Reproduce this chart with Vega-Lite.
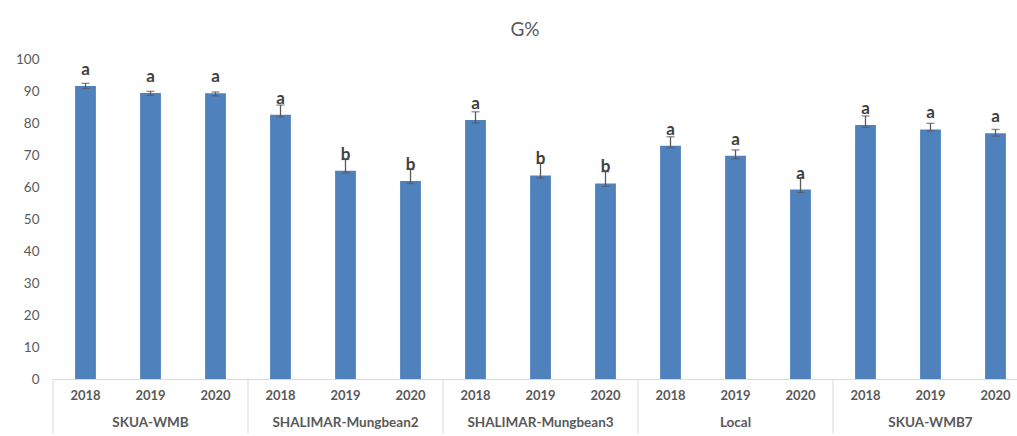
{
  "$schema": "https://vega.github.io/schema/vega-lite/v6.json",
  "autosize": {"type": "none"},
  "padding": {"left": 53, "top": 59, "right": 0, "bottom": 57},
  "width": 964,
  "height": 320,
  "background": "white",
  "title": {
    "text": "G%",
    "font": "Lato",
    "fontSize": 19,
    "fontWeight": "normal",
    "color": "#595959",
    "anchor": "middle",
    "dx": -10,
    "offset": 12
  },
  "config": {
    "view": {"stroke": null},
    "font": "Lato",
    "axisY": {
      "labelOverlap": false,
      "grid": false,
      "ticks": false,
      "domain": false,
      "labelFont": "Lato",
      "labelFontSize": 13.5,
      "labelColor": "#595959",
      "labelPadding": 14
    }
  },
  "data": {
    "values": [
      {"key": "SKUA-WMB|2018", "variety": "SKUA-WMB", "year": "2018", "g": 91.6, "lo": 90.8, "hi": 92.4, "letter": "a"},
      {"key": "SKUA-WMB|2019", "variety": "SKUA-WMB", "year": "2019", "g": 89.4, "lo": 88.6, "hi": 89.9, "letter": "a"},
      {"key": "SKUA-WMB|2020", "variety": "SKUA-WMB", "year": "2020", "g": 89.3, "lo": 88.5, "hi": 89.7, "letter": "a"},
      {"key": "SHALIMAR-Mungbean2|2018", "variety": "SHALIMAR-Mungbean2", "year": "2018", "g": 82.6, "lo": 81.9, "hi": 85.6, "letter": "a"},
      {"key": "SHALIMAR-Mungbean2|2019", "variety": "SHALIMAR-Mungbean2", "year": "2019", "g": 65.1, "lo": 64.4, "hi": 68.6, "letter": "b"},
      {"key": "SHALIMAR-Mungbean2|2020", "variety": "SHALIMAR-Mungbean2", "year": "2020", "g": 61.9, "lo": 61.1, "hi": 65.5, "letter": "b"},
      {"key": "SHALIMAR-Mungbean3|2018", "variety": "SHALIMAR-Mungbean3", "year": "2018", "g": 80.9, "lo": 80.0, "hi": 83.5, "letter": "a"},
      {"key": "SHALIMAR-Mungbean3|2019", "variety": "SHALIMAR-Mungbean3", "year": "2019", "g": 63.6, "lo": 62.8, "hi": 67.4, "letter": "b"},
      {"key": "SHALIMAR-Mungbean3|2020", "variety": "SHALIMAR-Mungbean3", "year": "2020", "g": 61.1, "lo": 60.2, "hi": 64.8, "letter": "b"},
      {"key": "Local|2018", "variety": "Local", "year": "2018", "g": 72.9, "lo": 72.3, "hi": 75.7, "letter": "a"},
      {"key": "Local|2019", "variety": "Local", "year": "2019", "g": 69.8, "lo": 68.8, "hi": 71.6, "letter": "a"},
      {"key": "Local|2020", "variety": "Local", "year": "2020", "g": 59.2, "lo": 58.3, "hi": 62.9, "letter": "a"},
      {"key": "SKUA-WMB7|2018", "variety": "SKUA-WMB7", "year": "2018", "g": 79.4, "lo": 78.6, "hi": 82.2, "letter": "a"},
      {"key": "SKUA-WMB7|2019", "variety": "SKUA-WMB7", "year": "2019", "g": 78.0, "lo": 77.5, "hi": 79.9, "letter": "a"},
      {"key": "SKUA-WMB7|2020", "variety": "SKUA-WMB7", "year": "2020", "g": 76.8, "lo": 75.9, "hi": 78.0, "letter": "a"}
    ]
  },
  "encoding": {
    "x": {
      "field": "key",
      "type": "nominal",
      "sort": null,
      "scale": {"paddingInner": 0, "paddingOuter": 0, "range": [0, 975]},
      "axis": {
        "title": null,
        "labelAngle": 0,
        "labelExpr": "split(datum.value, '|')[1]",
        "labelFont": "Lato",
        "labelFontSize": 13,
        "labelFontWeight": "bold",
        "labelColor": "#595959",
        "labelPadding": 10,
        "ticks": false,
        "domainColor": "#d9d9d9",
        "domainWidth": 1
      }
    }
  },
  "layer": [
    {
      "mark": {"type": "bar", "width": {"band": 0.32}, "color": "#4f81bd"},
      "encoding": {
        "y": {
          "field": "g",
          "type": "quantitative",
          "scale": {"domain": [0, 100], "nice": false},
          "axis": {"title": null, "values": [0, 10, 20, 30, 40, 50, 60, 70, 80, 90, 100]}
        }
      }
    },
    {
      "mark": {"type": "errorbar", "ticks": {"size": 8}, "color": "#595959", "thickness": 1.3},
      "encoding": {
        "y": {
          "field": "lo",
          "type": "quantitative",
          "axis": {"title": null, "values": [0, 10, 20, 30, 40, 50, 60, 70, 80, 90, 100]}
        },
        "y2": {"field": "hi"}
      }
    },
    {
      "mark": {"type": "text", "dy": -16, "baseline": "middle", "font": "Lato", "fontSize": 17, "fontWeight": "bold", "color": "#404040"},
      "encoding": {
        "y": {
          "field": "g",
          "type": "quantitative",
          "axis": {"title": null, "values": [0, 10, 20, 30, 40, 50, 60, 70, 80, 90, 100]}
        },
        "text": {"field": "letter"}
      }
    },
    {
      "transform": [{"filter": "datum.year === '2018'"}],
      "mark": {"type": "rule", "color": "#d9d9d9", "strokeWidth": 1},
      "encoding": {
        "x": {"field": "key", "type": "nominal", "sort": null, "bandPosition": 0},
        "y": {"datum": 0, "axis": {"title": null, "values": [0, 10, 20, 30, 40, 50, 60, 70, 80, 90, 100]}},
        "y2": {"datum": -17}
      }
    },
    {
      "transform": [{"filter": "datum.year === '2019'"}],
      "mark": {"type": "text", "baseline": "middle", "font": "Lato", "fontSize": 13.5, "fontWeight": "bold", "color": "#595959"},
      "encoding": {
        "y": {"datum": -13.75, "axis": {"title": null, "values": [0, 10, 20, 30, 40, 50, 60, 70, 80, 90, 100]}},
        "text": {"field": "variety"}
      }
    }
  ]
}
